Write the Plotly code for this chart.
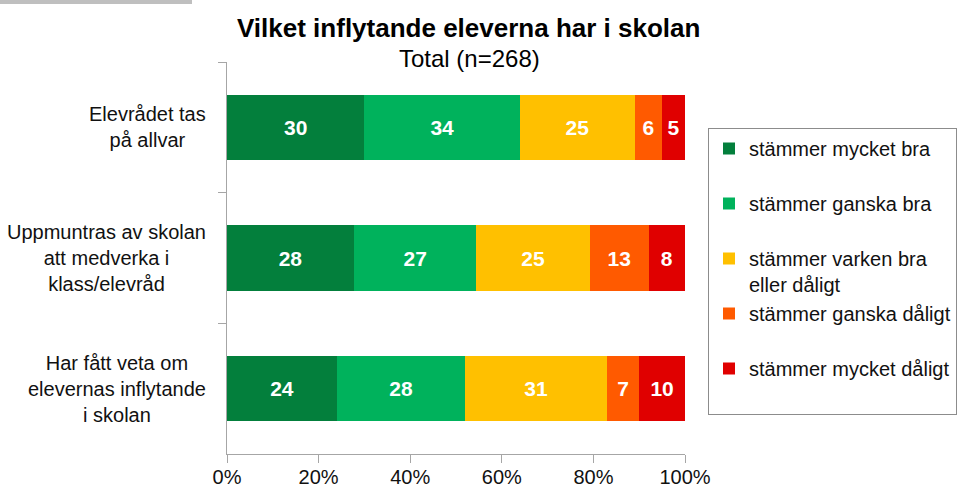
import plotly.graph_objects as go

categories = ["Elevrådet tas<br>på allvar",
              "Uppmuntras av skolan<br>att medverka i<br>klass/elevråd",
              "Har fått veta om<br>elevernas inflytande<br>i skolan"]
series_names = ["stämmer mycket bra", "stämmer ganska bra",
                "stämmer varken bra<br>eller dåligt", "stämmer ganska dåligt",
                "stämmer mycket dåligt"]
mycket_bra = [30, 28, 24]
ganska_bra = [34, 27, 28]
varken = [25, 25, 31]
ganska_daligt = [6, 13, 7]
mycket_daligt = [5, 8, 10]
series_values = [mycket_bra, ganska_bra, varken, ganska_daligt, mycket_daligt]
colors = ["#037F3C", "#00B25C", "#FFC000", "#FF5A00", "#E00000"]
x_tickvals = [0, 20, 40, 60, 80, 100]
x_ticktext = ["0%", "20%", "40%", "60%", "80%", "100%"]

W, H = 964, 490
L, R, T, B = 227, 279, 62, 36
pw, ph = W - L - R, H - T - B
FONT = "Liberation Sans, Arial"

fig = go.Figure()
for i, (name, vals, col) in enumerate(zip(series_names, series_values, colors)):
    label = name if "<br>" in name else name + "<br>&nbsp;"
    fig.add_trace(go.Bar(
        y=categories, x=vals, name=label, orientation="h",
        marker=dict(color=col, line=dict(width=0)),
        text=[str(v) for v in vals], texttemplate="%{text}",
        textposition="inside", insidetextanchor="middle", textangle=0,
        textfont=dict(color="white", size=21, family=FONT, weight="bold"),
        legendgroup=str(i),
    ))

annotations = [
    dict(text="<b>Vilket inflytande eleverna har i skolan</b>", xref="paper", yref="paper",
         x=(468 - L) / pw, y=(H - B - 28) / ph, xanchor="center", yanchor="middle",
         showarrow=False, font=dict(size=26, color="#000000")),
    dict(text="Total (n=268)", xref="paper", yref="paper",
         x=(469 - L) / pw, y=(H - B - 58) / ph, xanchor="center", yanchor="middle",
         showarrow=False, font=dict(size=24, color="#000000")),
]
for c in categories:
    annotations.append(dict(text=c, xref="paper", yref="y", x=(208 - L) / pw, y=c,
                            xanchor="right", yanchor="middle", align="center",
                            showarrow=False, font=dict(size=20, color="#111111")))

fig.update_layout(
    width=W, height=H,
    margin=dict(l=L, r=R, t=T, b=B, autoexpand=False),
    barmode="stack", barnorm="percent", bargap=0.5,
    plot_bgcolor="white", paper_bgcolor="white",
    font=dict(family=FONT, color="#111111"),
    showlegend=True,
    legend=dict(x=(708 - L) / pw, xanchor="left", y=(H - B - 128) / ph, yanchor="top",
                bordercolor="#8C8C8C", borderwidth=1, bgcolor="white",
                font=dict(size=20, color="#111111"), valign="top",
                tracegroupgap=0, traceorder="normal", itemwidth=30),
    xaxis=dict(range=[0, 100], tickvals=x_tickvals, ticktext=x_ticktext,
               showgrid=False, zeroline=False, showline=True, linecolor="#A6A6A6",
               linewidth=1, ticks="outside", ticklen=8, tickcolor="#A6A6A6",
               ticklabelstandoff=-3,
               tickfont=dict(size=20, color="#111111")),
    yaxis=dict(type="category", autorange="reversed", showgrid=False,
               showline=True, linecolor="#A6A6A6", ticks="outside", ticklen=8,
               tickcolor="#A6A6A6", tickson="boundaries", showticklabels=False),
    annotations=annotations,
    shapes=[dict(type="rect", xref="paper", yref="paper",
                 x0=(0 - L) / pw, x1=(192 - L) / pw,
                 y0=(H - B - 4) / ph, y1=(H - B + 2) / ph,
                 fillcolor="#BFBFBF", line=dict(width=0), layer="above")],
)
fig.update_traces(cliponaxis=False)
fig.write_html("out.html", config={"displayModeBar": False},
               post_script="document.body.style.margin='0';document.body.style.overflow='hidden';")
